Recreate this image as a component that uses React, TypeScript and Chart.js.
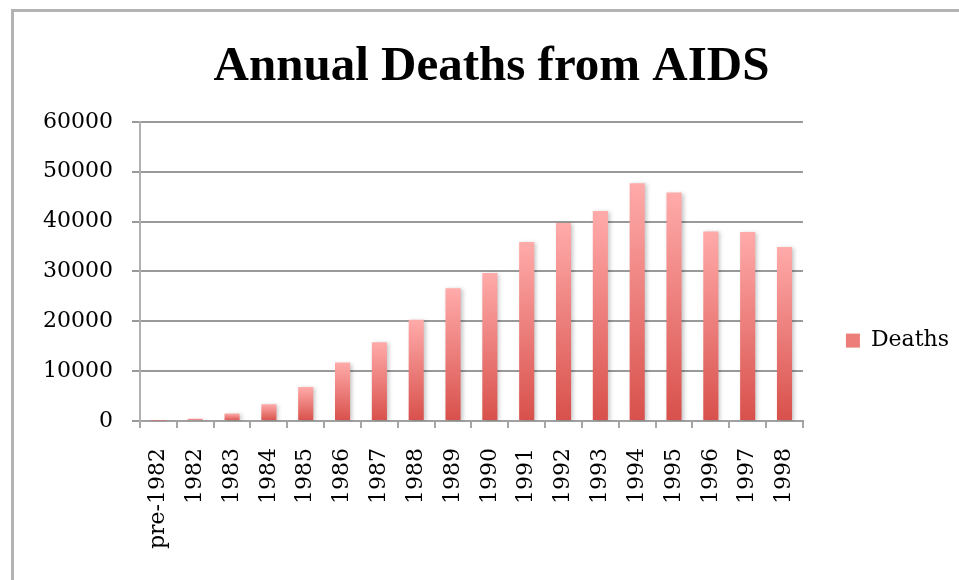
import React, { useEffect, useRef } from 'react';
import { Chart, registerables } from 'chart.js';

Chart.register(...registerables);

const categories = ['pre-1982', '1982', '1983', '1984', '1985', '1986', '1987', '1988', '1989', '1990', '1991', '1992', '1993', '1994', '1995', '1996', '1997', '1998'];
const deaths = [100, 460, 1500, 3350, 6800, 11700, 15800, 20300, 26600, 29700, 35900, 39700, 42100, 47700, 45800, 38000, 37900, 34900];
const seriesName = 'Deaths';
const chartTitle = 'Annual Deaths from AIDS';
const yMin = 0;
const yMax = 60000;
const yStep = 10000;

const TOP_COLOR = '#FFABAA';
const BOTTOM_COLOR = '#D8504B';

const framePlugin = {
  id: 'frame',
  beforeDraw(chart: any) {
    const ctx = chart.ctx;
    ctx.save();
    ctx.fillStyle = '#ffffff';
    ctx.fillRect(0, 0, chart.width, chart.height);
    ctx.strokeStyle = '#b3b3b3';
    ctx.lineWidth = 3;
    ctx.beginPath();
    ctx.moveTo(12.5, chart.height);
    ctx.lineTo(12.5, 10.5);
    ctx.lineTo(chart.width, 10.5);
    ctx.stroke();
    ctx.restore();
  },
};

const shadowPlugin = {
  id: 'barShadow',
  beforeDatasetDraw(chart: any) {
    const ctx = chart.ctx;
    ctx.save();
    ctx.shadowColor = 'rgba(0,0,0,0.22)';
    ctx.shadowBlur = 4;
    ctx.shadowOffsetX = 2;
    ctx.shadowOffsetY = 1;
  },
  afterDatasetDraw(chart: any) {
    chart.ctx.restore();
  },
};

function barFill(context: any) {
  const chart = context.chart;
  const area = chart.chartArea;
  if (!area || context.dataIndex === undefined || !chart.scales || !chart.scales.y) return '#E8736F';
  const y = chart.scales.y;
  const v = deaths[context.dataIndex];
  const top = y.getPixelForValue(v);
  const base = y.getPixelForValue(0);
  if (!isFinite(top) || !isFinite(base) || base - top < 1) return '#E0605B';
  const g = chart.ctx.createLinearGradient(0, top, 0, base);
  g.addColorStop(0, TOP_COLOR);
  g.addColorStop(1, BOTTOM_COLOR);
  return g;
}

export default function App() {
  const ref = useRef<HTMLCanvasElement | null>(null);

  useEffect(() => {
    if (!ref.current) return;
    const tickFont = { family: 'DejaVu Serif', size: 22 };
    const chart = new Chart(ref.current, {
      type: 'bar',
      data: {
        labels: categories,
        datasets: [
          {
            label: seriesName,
            data: deaths,
            backgroundColor: barFill as any,
            borderWidth: 0,
            barPercentage: 0.41,
            categoryPercentage: 1,
            yAxisID: 'y',
          },
        ],
      },
      options: {
        responsive: false,
        animation: false,
        layout: { padding: { left: 24, right: 0, top: 0, bottom: 11 } },
        plugins: {
          title: {
            display: true,
            text: chartTitle,
            color: '#000000',
            font: { family: 'Liberation Serif', size: 49, weight: 'bold' },
            padding: { top: 38, bottom: 25 },
          },
          legend: {
            position: 'right',
            title: {
              display: true,
              text: ' ',
              font: { size: 1 },
              padding: { top: 111, bottom: 0 },
            },
            labels: {
              boxWidth: 14,
              boxHeight: 14,
              color: '#000000',
              font: tickFont,
              padding: 10,
              generateLabels: () => [
                {
                  text: seriesName,
                  fillStyle: '#EC7D79',
                  strokeStyle: '#EC7D79',
                  fontColor: '#000000',
                  lineWidth: 0,
                  hidden: false,
                  datasetIndex: 0,
                } as any,
              ],
            },
          },
          tooltip: { enabled: false },
        },
        scales: {
          x: {
            offset: true,
            grid: {
              display: true,
              drawOnChartArea: false,
              drawTicks: true,
              tickLength: 7,
              color: '#a6a6a6',
              lineWidth: 2,
              offset: true,
            },
            border: { display: true, color: '#a0a0a0', width: 2 },
            ticks: {
              color: '#000000',
              font: tickFont,
              maxRotation: 90,
              minRotation: 90,
              autoSkip: false,
              padding: 20,
            },
          },
          y: {
            min: yMin,
            max: yMax,
            grid: {
              color: '#999999',
              lineWidth: 2,
              drawTicks: true,
              tickLength: 8,
            },
            border: { display: true, color: '#b0b0b0', width: 2 },
            ticks: {
              stepSize: yStep,
              color: '#000000',
              font: tickFont,
              padding: 19,
              callback: (v: any) => String(v),
            },
          },
          spacer: {
            type: 'linear',
            position: 'right',
            display: true,
            min: 0,
            max: 1,
            grid: { display: false, drawTicks: false },
            border: { display: false },
            ticks: { display: false },
            afterFit: (scale: any) => {
              scale.width = 33;
            },
          },
        },
      },
      plugins: [framePlugin, shadowPlugin],
    });
    return () => chart.destroy();
  }, []);

  return (
    <div style={{ position: 'fixed', left: 0, top: 0, width: 959, height: 580 }}>
      <canvas ref={ref} width={959} height={580} style={{ display: 'block' }} />
    </div>
  );
}
